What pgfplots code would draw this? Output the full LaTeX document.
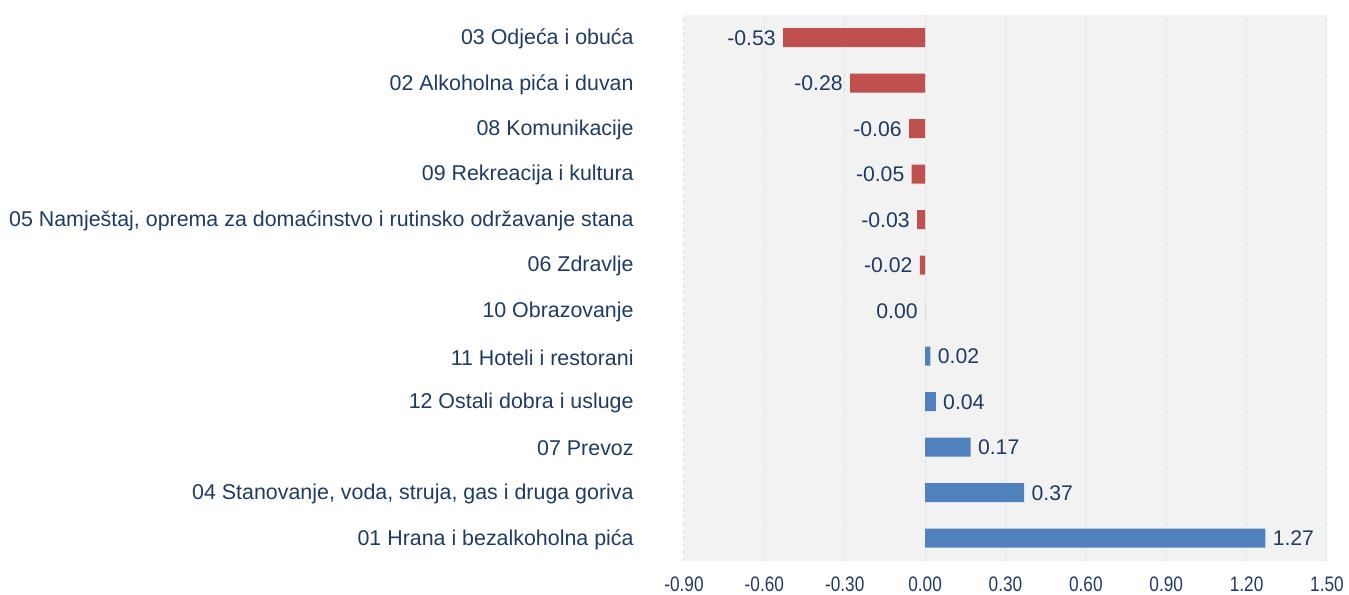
\documentclass[border=0pt]{standalone}
\usepackage{pgfplots}
\pgfplotsset{compat=1.18}
\usepackage{graphicx}
\usepackage{fontspec}
\setmainfont{Liberation Sans}
\definecolor{negred}{HTML}{C0504D}
\definecolor{posblue}{HTML}{4F81BD}
\definecolor{txt}{HTML}{1F3B63}
\definecolor{bg}{HTML}{F2F2F2}
\definecolor{gridc}{HTML}{CFE6E8}
\begin{document}
\begin{tikzpicture}
\begin{axis}[
  name=ax,
  scale only axis,
  width=321.5bp, height=273bp,
  xmin=-0.9, xmax=1.5,
  ymin=-0.5, ymax=11.5,
  xtick={-0.9,-0.6,-0.3,0,0.3,0.6,0.9,1.2,1.5},
  ytick={0,...,11},
  yticklabels={01 Hrana i bezalkoholna pića,04 Stanovanje{,} voda{,} struja{,} gas i druga goriva,07 Prevoz,12 Ostali dobra i usluge,11 Hoteli i restorani,10 Obrazovanje,06 Zdravlje,{05 Namještaj, oprema za domaćinstvo i rutinsko održavanje stana},09 Rekreacija i kultura,08 Komunikacije,02 Alkoholna pića i duvan,03 Odjeća i obuća},
  axis background/.style={fill=bg},
  axis line style={draw=none},
  major tick length=0pt,
  xmajorgrids,
  major grid style={gridc, dash pattern=on 2bp off 1.5bp, line width=0.5bp},
  extra x ticks={0},
  extra x tick labels={},
  extra x tick style={grid style={solid, black!55, line width=0.6bp}},
  /pgf/number format/assume math mode=true,
  /pgf/number format/.cd, fixed, zerofill, precision=2, /pgfplots/.cd,
  xticklabel={\scalebox{0.82}[1]{\pgfmathprintnumber{\tick}}},
  xticklabel style={font=\fontsize{10.5bp}{12bp}\selectfont, text=txt, inner sep=0pt, anchor=north, yshift=-7.5bp},
  yticklabel style={font=\fontsize{10.7bp}{12bp}\selectfont, text=txt, inner sep=0pt, anchor=east, xshift=-25bp, yshift=-0.6bp},
  xbar, bar width=9.5bp, bar shift=0pt,
  nodes near coords,
  point meta=x,
  nodes near coords style={font=\fontsize{10.6bp}{12bp}\selectfont, text=txt, inner sep=0pt, /pgf/number format/fixed, /pgf/number format/zerofill, /pgf/number format/precision=2},
]
\addplot[fill=negred, draw=none, nodes near coords style={anchor=east, xshift=-3.5bp}]
  coordinates {(-0.53,11) (-0.28,10) (-0.06,9) (-0.05,8) (-0.03,7) (-0.02,6) (0.00,5)};
\addplot[fill=posblue, draw=none, nodes near coords style={anchor=west, xshift=3.5bp}]
  coordinates {(0.02,4) (0.04,3) (0.17,2) (0.37,1) (1.27,0)};
\end{axis}
\path ([xshift=-342bp,yshift=-17bp]ax.south west) ([xshift=11bp,yshift=7.5bp]ax.north east);
\end{tikzpicture}
\end{document}
